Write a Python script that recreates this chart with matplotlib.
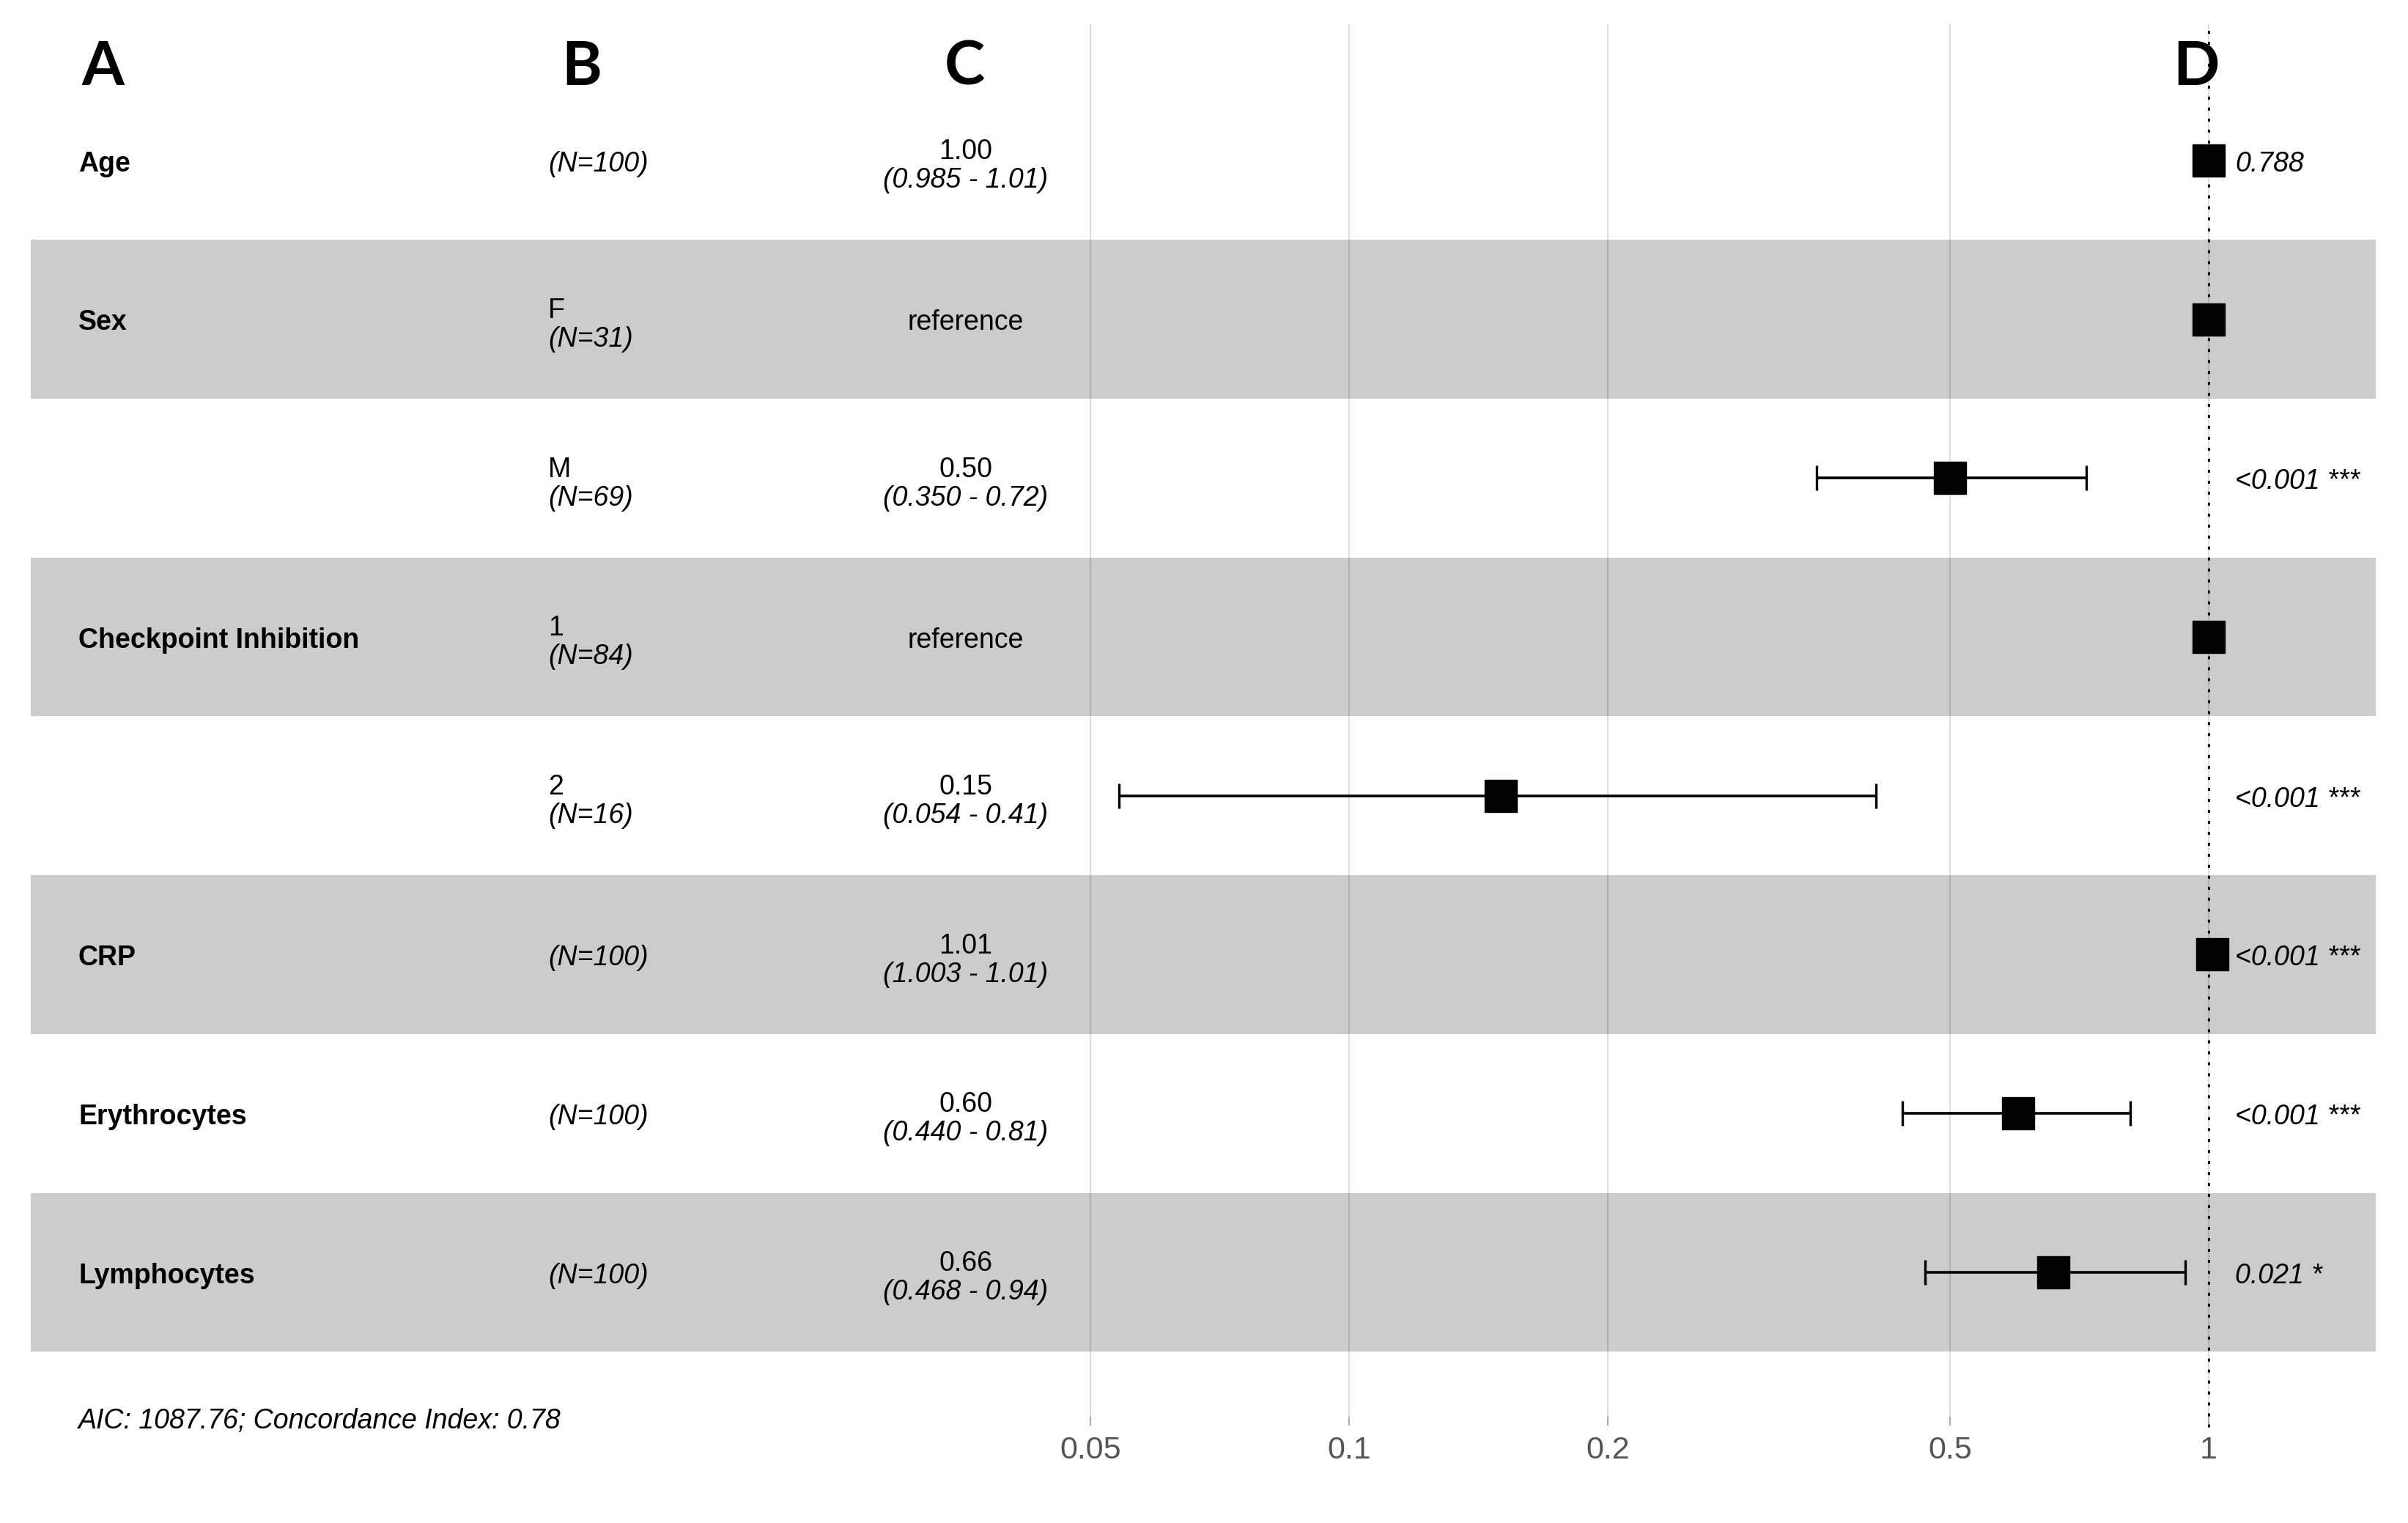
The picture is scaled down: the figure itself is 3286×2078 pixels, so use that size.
"""Forest plot (hazard ratios, Cox model) - ggforest-style layout redrawn in matplotlib."""

import numpy as np
import matplotlib
matplotlib.use("Agg")
import matplotlib.pyplot as plt
from matplotlib.transforms import blended_transform_factory

# --- data -------------------------------------------------------------------
variables = ["Age", "Sex", "", "Checkpoint Inhibition", "", "CRP", "Erythrocytes", "Lymphocytes"]
levels = ["", "F", "M", "1", "2", "", "", ""]
n_obs = [100, 31, 69, 84, 16, 100, 100, 100]
hazard = [1.00, 1.0, 0.50, 1.0, 0.15, 1.01, 0.60, 0.66]
is_reference = [False, True, False, True, False, False, False, False]
ci_low = [0.985, np.nan, 0.350, np.nan, 0.054, 1.003, 0.440, 0.468]
ci_high = [1.01, np.nan, 0.72, np.nan, 0.41, 1.01, 0.81, 0.94]
p_labels = ["0.788", "", "<0.001 ***", "", "<0.001 ***", "<0.001 ***", "<0.001 ***", "0.021 *"]
x_ticks = [0.05, 0.1, 0.2, 0.5, 1]
x_ticklabels = ["0.05", "0.1", "0.2", "0.5", "1"]
footnote = "AIC: 1087.76; Concordance Index: 0.78"
headers = ["A", "B", "C", "D"]

# --- layout (figure pixels of the 3286x2078 output) --------------------------
W, H = 3286, 2078
PX_05, PX_1 = 1488, 3014            # where 0.05 and 1 sit horizontally
ROW0, ROW_H = 219, 216.7            # centre of first row, row pitch
AX_TOP, AX_BOT = 32, 1933

per_dec = (PX_1 - PX_05) / np.log10(1 / 0.05)
xlim = (10 ** (np.log10(0.05) - PX_05 / per_dec), 10 ** ((W - PX_1) / per_dec))
ylim = ((AX_BOT - ROW0) / ROW_H, (AX_TOP - ROW0) / ROW_H)

plt.rcParams["font.family"] = ["Liberation Sans", "DejaVu Sans"]
FS = 27

fig = plt.figure(figsize=(W / 100, H / 100), dpi=100)
ax = fig.add_axes([0, 1 - AX_BOT / H, 1, (AX_BOT - AX_TOP) / H])
ax.set_xscale("log")
ax.set_xlim(*xlim)
ax.set_ylim(*ylim)
ax.set_axisbelow(True)
for s in ax.spines.values():
    s.set_visible(False)
ax.set_yticks([])
ax.xaxis.set_minor_locator(matplotlib.ticker.NullLocator())
ax.set_xticks(x_ticks)
ax.set_xticklabels(x_ticklabels)
ax.tick_params(axis="x", length=8.6, width=1.4, color="#A8A8A8", pad=10,
               labelsize=31, labelcolor="#555555")
ax.grid(axis="x", color="#DEDEDE", lw=1.5)

rows = np.arange(len(variables))

# alternating grey bands (drawn above the grid, like ggforest's translucent rects)
for r in rows[1::2]:
    ax.axhspan(r - 0.5, r + 0.5, xmin=42 / W, xmax=3242 / W, color="black", alpha=0.2,
               lw=0, zorder=1)

# reference line at HR = 1
ax.axvline(1, ymin=-0.0075, ymax=1, color="black", lw=2.2, dashes=(1.3, 3.6),
           clip_on=False, zorder=2)

# estimates with 95% CI
lo_err = np.array(hazard) - np.array(ci_low)
hi_err = np.array(ci_high) - np.array(hazard)
ax.errorbar(hazard, rows, xerr=[lo_err, hi_err], fmt="none", ecolor="black",
            elinewidth=2.6, capsize=12, capthick=2.4, zorder=3)
ax.plot(hazard, rows, "s", ms=31, color="black", zorder=4)

# text columns
tr = blended_transform_factory(ax.transAxes, ax.transData)
XA, XB, XC, XD = 107 / W, 748 / W, 1318 / W, 3050 / W
SINGLE, UPPER, LOWER = 0.068, -0.008, 0.172
for r in rows:
    if variables[r]:
        ax.text(XA, r + SINGLE, variables[r], transform=tr, fontsize=FS,
                fontweight="bold", va="baseline", ha="left")
    n_txt = f"(N={n_obs[r]})"
    if levels[r]:
        ax.text(XB, r + UPPER, levels[r], transform=tr, fontsize=FS, va="baseline", ha="left")
        ax.text(XB, r + LOWER, n_txt, transform=tr, fontsize=FS, style="italic",
                va="baseline", ha="left")
    else:
        ax.text(XB, r + SINGLE, n_txt, transform=tr, fontsize=FS, style="italic",
                va="baseline", ha="left")
    if is_reference[r]:
        ax.text(XC, r + SINGLE, "reference", transform=tr, fontsize=FS,
                va="baseline", ha="center")
    else:
        ax.text(XC, r + UPPER, f"{hazard[r]:.2f}", transform=tr, fontsize=FS,
                va="baseline", ha="center")
        ax.text(XC, r + LOWER, f"({ci_low[r]:.3f} - {ci_high[r]:.2f})", transform=tr,
                fontsize=FS, style="italic", va="baseline", ha="center")
    if p_labels[r]:
        ax.text(XD, r + SINGLE, p_labels[r], transform=tr, fontsize=FS, style="italic",
                va="baseline", ha="left", zorder=5)

fig.text(107 / W, 1 - 1939 / H, footnote, fontsize=FS, style="italic",
         va="center", ha="left")

# panel letters
for lab, xp in zip(headers, [140, 794, 1316, 2997]):
    fig.text(xp / W, 1 - 92 / H, lab, fontsize=60, fontweight="bold",
             family=["Lato", "DejaVu Sans"], ha="center", va="center")

fig.savefig("out.png", dpi=100, facecolor="white")
